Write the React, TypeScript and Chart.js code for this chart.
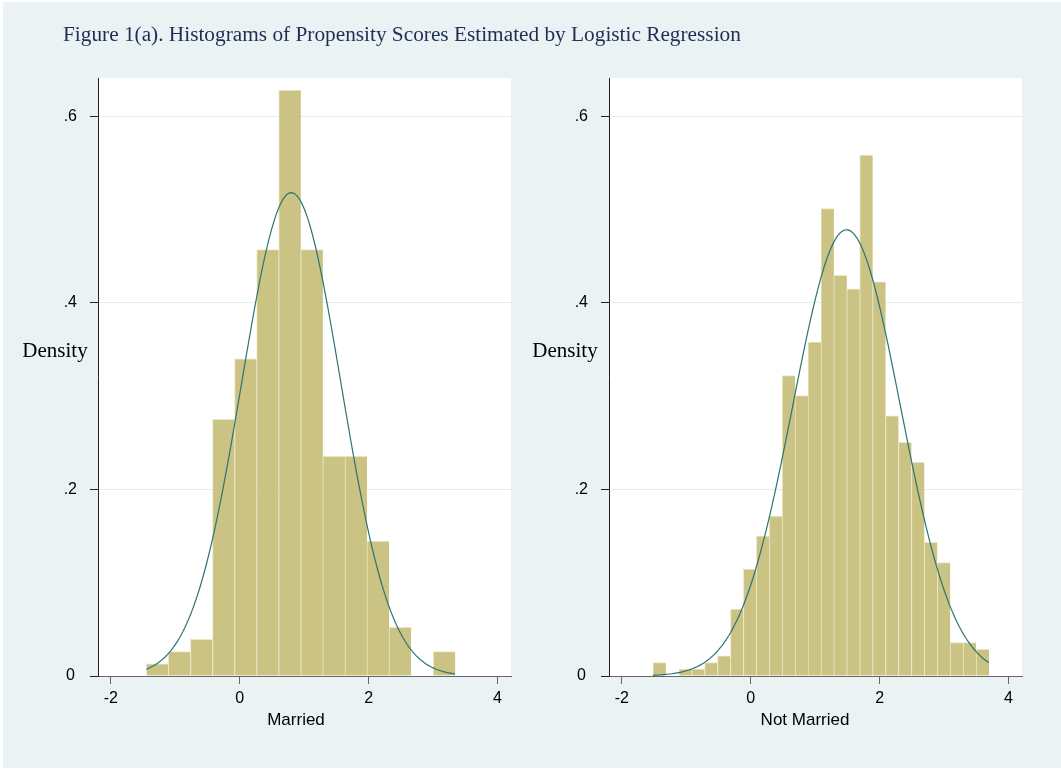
import { useEffect, useRef } from "react";
import { Chart, registerables } from "chart.js";

Chart.register(...registerables);

// ---- text ----
const figureTitle =
  "Figure 1(a). Histograms of Propensity Scores Estimated by Logistic Regression";
const yAxisTitle = "Density";

// ---- shared axes ----
const xTickValues = [-2, 0, 2, 4];
const xTickLabels = ["-2", "0", "2", "4"];
const yTickValues = [0, 0.2, 0.4, 0.6];
const yTickLabels = ["0", ".2", ".4", ".6"];
const xMin = -2.2;
const xMax = 4.21;
const yMax = 0.641;

// ---- Married: histogram densities and fitted normal ----
const marriedTitle = "Married";
const marriedBinStart = -1.45;
const marriedBinWidth = 0.3425;
const marriedDensity = [
  0.0131, 0.0262, 0.0392, 0.275, 0.34, 0.457, 0.628, 0.457, 0.2355, 0.2355,
  0.1446, 0.0523, 0, 0.0262,
];
const marriedMean = 0.8;
const marriedSd = 0.77;
const marriedRange = [-1.45, 3.34];

// ---- Not Married: histogram densities and fitted normal ----
const notMarriedTitle = "Not Married";
const notMarriedBinStart = -1.518;
const notMarriedBinWidth = 0.2006;
const notMarriedDensity = [
  0.0144, 0, 0.0075, 0.0075, 0.0144, 0.0215, 0.0716, 0.1145, 0.15, 0.1714,
  0.322, 0.3007, 0.358, 0.501, 0.4296, 0.415, 0.5585, 0.4224, 0.279, 0.2506,
  0.229, 0.1432, 0.1217, 0.0358, 0.0358, 0.0286,
];
const notMarriedMean = 1.487;
const notMarriedSd = 0.834;
const notMarriedRange = [-1.518, 3.697];

// ---- styling ----
const W = 1061;
const H = 769;
const graphBg = "#eaf2f3";
const barFill = "#cac383";
const barEdge = "#ebe7c4";
const curveColor = "#2d7373";
const gridColor = "#e3edef";
const sans = '"Liberation Sans", Arial, sans-serif';
const serif = '"Liberation Serif", "Times New Roman", serif';

type Panel = {
  left: number;
  right: number;
  top: number;
  bottom: number;
  xTitle: string;
  xTitleX: number;
  yTitleX: number;
  showFigureTitle: boolean;
  binStart: number;
  binWidth: number;
  density: number[];
  mean: number;
  sd: number;
  range: number[];
};

const panels: Panel[] = [
  {
    left: 98,
    right: 511,
    top: 78,
    bottom: 676,
    xTitle: marriedTitle,
    xTitleX: 296,
    yTitleX: 55,
    showFigureTitle: true,
    binStart: marriedBinStart,
    binWidth: marriedBinWidth,
    density: marriedDensity,
    mean: marriedMean,
    sd: marriedSd,
    range: marriedRange,
  },
  {
    left: 609,
    right: 1022,
    top: 78,
    bottom: 676,
    xTitle: notMarriedTitle,
    xTitleX: 805,
    yTitleX: 565,
    showFigureTitle: false,
    binStart: notMarriedBinStart,
    binWidth: notMarriedBinWidth,
    density: notMarriedDensity,
    mean: notMarriedMean,
    sd: notMarriedSd,
    range: notMarriedRange,
  },
];

// normal density with the group's mean and sd, over the observed range
function normalCurve(mean: number, sd: number, range: number[]) {
  const pts: { x: number; y: number }[] = [];
  const n = 160;
  for (let i = 0; i <= n; i++) {
    const x = range[0] + ((range[1] - range[0]) * i) / n;
    const z = (x - mean) / sd;
    pts.push({ x, y: Math.exp(-0.5 * z * z) / (sd * Math.sqrt(2 * Math.PI)) });
  }
  return pts;
}

function makeConfig(p: Panel): any {
  const bars = p.density.map((d, i) => ({
    x: p.binStart + p.binWidth * (i + 0.5),
    y: d,
  }));

  const panelText = {
    id: "panelText",
    beforeDraw(chart: any) {
      const { ctx, chartArea } = chart;
      ctx.save();
      ctx.fillStyle = "#ffffff";
      ctx.fillRect(
        chartArea.left,
        chartArea.top,
        chartArea.right - chartArea.left,
        chartArea.bottom - chartArea.top
      );
      ctx.restore();
    },
    afterDraw(chart: any) {
      const { ctx } = chart;
      ctx.save();
      ctx.fillStyle = "#000";
      ctx.textAlign = "center";
      ctx.textBaseline = "alphabetic";
      ctx.font = `21px ${serif}`;
      ctx.fillText(yAxisTitle, p.yTitleX, 357);
      ctx.font = `17px ${sans}`;
      ctx.fillText(p.xTitle, p.xTitleX, 725);
      if (p.showFigureTitle) {
        ctx.textAlign = "left";
        ctx.fillStyle = "#1f2d55";
        ctx.font = `21.3px ${serif}`;
        ctx.fillText(figureTitle, 63, 41);
      }
      ctx.restore();
    },
  };

  return {
    type: "bar",
    data: {
      datasets: [
        {
          type: "line",
          data: normalCurve(p.mean, p.sd, p.range),
          borderColor: curveColor,
          borderWidth: 1.2,
          pointRadius: 0,
          fill: false,
          tension: 0,
        },
        {
          type: "bar",
          data: bars,
          backgroundColor: barFill,
          borderColor: barEdge,
          borderWidth: { top: 1, left: 1, right: 0, bottom: 0 },
          borderSkipped: false,
          barPercentage: 1,
          categoryPercentage: 1,
        },
      ],
    },
    options: {
      responsive: false,
      animation: false,
      events: [],
      layout: {
        padding: { left: 0, top: p.top, right: W - p.right, bottom: 0 },
      },
      plugins: {
        legend: { display: false },
        tooltip: { enabled: false },
        title: { display: false },
      },
      scales: {
        x: {
          type: "linear",
          min: xMin,
          max: xMax,
          offset: false,
          afterFit: (s: any) => {
            s.height = H - p.bottom;
          },
          afterBuildTicks: (s: any) => {
            s.ticks = xTickValues.map((v) => ({ value: v }));
          },
          ticks: {
            callback: (_v: any, i: number) => xTickLabels[i],
            font: { family: sans, size: 16 },
            color: "#000",
            padding: 5,
            maxRotation: 0,
            autoSkip: false,
          },
          grid: {
            offset: false,
            drawOnChartArea: false,
            drawTicks: true,
            tickLength: 8,
            tickColor: "#666",
            tickWidth: 1,
          },
          border: { display: true, color: "#666", width: 1 },
        },
        y: {
          type: "linear",
          min: 0,
          max: yMax,
          afterFit: (s: any) => {
            s.width = p.left;
          },
          afterBuildTicks: (s: any) => {
            s.ticks = yTickValues.map((v) => ({ value: v }));
          },
          ticks: {
            callback: (_v: any, i: number) => yTickLabels[i],
            font: { family: sans, size: 16 },
            color: "#000",
            padding: 13,
            crossAlign: "center",
          },
          grid: {
            color: (c: any) =>
              c.tick && c.tick.value === 0 ? "rgba(0,0,0,0)" : gridColor,
            lineWidth: 1,
            drawTicks: true,
            tickLength: 8,
            tickColor: "#222",
            tickWidth: 1,
          },
          border: { display: true, color: "#222", width: 1 },
        },
      },
    },
    plugins: [panelText],
  };
}

function PanelCanvas({ panel }: { panel: Panel }) {
  const ref = useRef<HTMLCanvasElement | null>(null);
  useEffect(() => {
    if (!ref.current) return;
    const chart = new Chart(ref.current, makeConfig(panel));
    return () => chart.destroy();
  }, [panel]);
  return (
    <canvas
      ref={ref}
      width={W}
      height={H}
      style={{ position: "absolute", left: 0, top: 0, width: W, height: H }}
    />
  );
}

export default function App() {
  return (
    <div
      style={{
        position: "absolute",
        left: 0,
        top: 0,
        width: W,
        height: H,
        background: "#ffffff",
        overflow: "hidden",
      }}
    >
      <div
        style={{
          position: "absolute",
          left: 3,
          top: 2,
          width: W - 3,
          height: H - 3,
          background: graphBg,
        }}
      />
      {panels.map((p, i) => (
        <PanelCanvas key={i} panel={p} />
      ))}
    </div>
  );
}
